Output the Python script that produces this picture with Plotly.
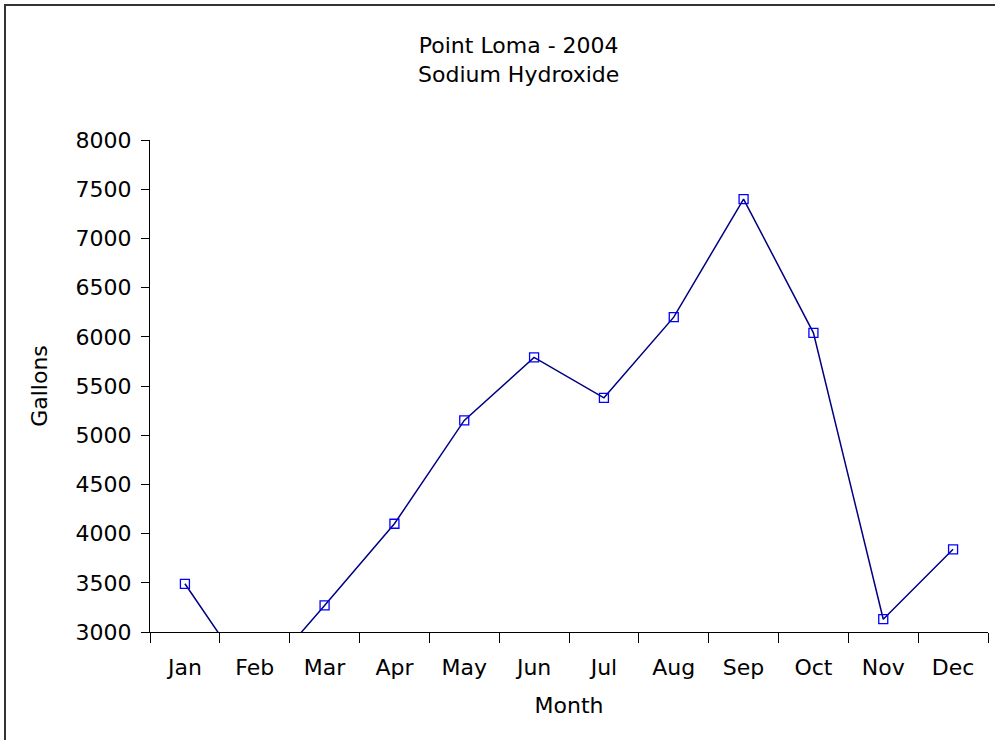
import plotly.graph_objects as go

months = ["Jan", "Feb", "Mar", "Apr", "May", "Jun", "Jul", "Aug", "Sep", "Oct", "Nov", "Dec"]
gallons = [3490, 2450, 3270, 4100, 5150, 5790, 5380, 6200, 7400, 6040, 3130, 3840]
y_ticks = [3000, 3500, 4000, 4500, 5000, 5500, 6000, 6500, 7000, 7500, 8000]

FONT = "DejaVu Sans, Liberation Sans, Arial, sans-serif"
W, H = 995, 740
L, R, T, B = 150, 7, 140, 108
PW, PH = W - L - R, H - T - B

fig = go.Figure()
fig.add_trace(go.Scatter(
    x=months, y=gallons, mode="lines+markers",
    line=dict(color="#000080", width=1.5),
    marker=dict(symbol="square-open", size=9, color="#0000FF", line=dict(width=1.3, color="#0000FF")),
    cliponaxis=True, showlegend=False,
))

fig.update_layout(
    width=W, height=H,
    margin=dict(l=L, r=R, t=T, b=B),
    paper_bgcolor="white", plot_bgcolor="white",
    font=dict(family=FONT, size=22, color="black"),
    xaxis=dict(
        type="category", range=[-0.5, 11.5], tickson="boundaries",
        ticks="outside", ticklen=10, tickcolor="black", tickwidth=1,
        showline=True, linecolor="black", linewidth=1, showgrid=False, zeroline=False,
        title=dict(text="Month", standoff=18, font=dict(size=22)),
        tickfont=dict(size=22), ticklabelstandoff=16,
    ),
    yaxis=dict(
        range=[3000, 8000], tickvals=y_ticks,
        ticks="outside", ticklen=8, tickcolor="black", tickwidth=1,
        showline=True, linecolor="black", linewidth=1, showgrid=False, zeroline=False,
        title=dict(text="Gallons", standoff=21, font=dict(size=22)),
        tickfont=dict(size=22), ticklabelstandoff=5,
    ),
    annotations=[dict(
        text="Point Loma - 2004<br>Sodium Hydroxide", xref="paper", yref="paper",
        x=(518 - L) / PW, y=1 + (T - 60) / PH, xanchor="center", yanchor="middle",
        showarrow=False, font=dict(size=22), align="center",
    )],
    shapes=[dict(type="rect", xref="paper", yref="paper",
                 x0=(5 - L) / PW, x1=(W + 10 - L) / PW,
                 y0=-(H + 10 - (T + PH)) / PH, y1=1 + (T - 5) / PH,
                 line=dict(color="#333333", width=2))],
)

fig.write_html("out.html", config={"displayModeBar": False},
               post_script="document.body.style.margin='0';")
